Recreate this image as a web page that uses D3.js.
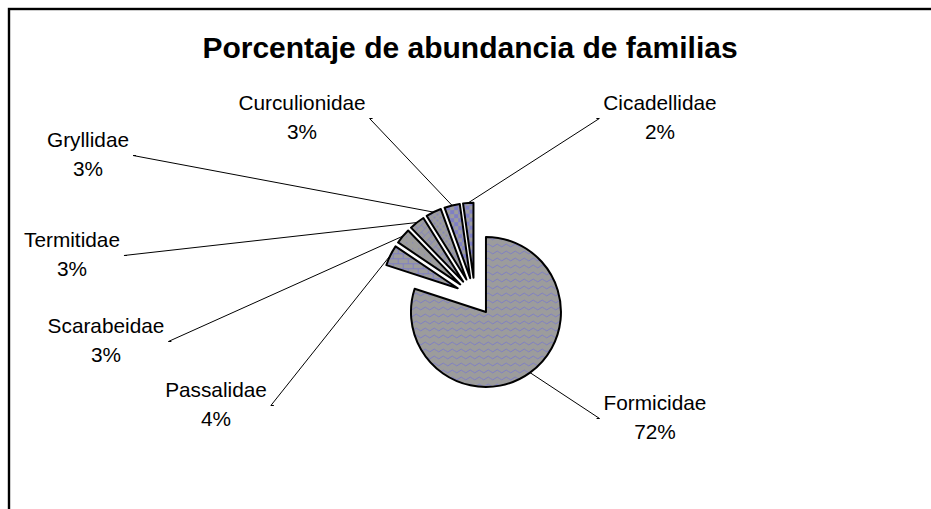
<!DOCTYPE html>
<html>
<head>
<meta charset="utf-8">
<script src="https://cdn.jsdelivr.net/npm/d3@7"></script>
<style>
  body { margin: 0; background: #fff; }
  text { font-family: "Liberation Sans", Arial, sans-serif; fill: #000; }
</style>
</head>
<body>
<div id="chart"></div>
<script>
var svgWidth = 931;
var svgHeight = 509;

// data
var families = ["Formicidae", "Passalidae", "Scarabeidae", "Termitidae", "Gryllidae", "Curculionidae", "Cicadellidae"];
var values = [72, 4, 3, 3, 3, 3, 2];
var pctLabels = ["72%", "4%", "3%", "3%", "3%", "3%", "2%"];
var patterns = ["wave", "brick", "dots", "dbrick", "smallcheck", "check", "check"];

// layout: label anchors (centre x, first baseline) as placed in the original
var labelPos = [[655, 410], [216, 397], [106, 333], [72, 247], [88, 147], [302, 110], [660, 110]];

var centre = { x: 474.8, y: 296.6 };
var radius = 75;
var explode = 19;

var svg = d3.select("#chart")
  .append("svg")
  .attr("width", svgWidth)
  .attr("height", svgHeight);

// chart frame (runs off the bottom/right of the window)
svg.append("rect")
  .attr("x", 9).attr("y", 9)
  .attr("width", 1000).attr("height", 600)
  .attr("fill", "none")
  .attr("stroke", "#000")
  .attr("stroke-width", 2.4);

// fill patterns
var grey = "#9c9c9c";
var blue = "#7f7fc4";
var defs = svg.append("defs");

var p = defs.append("pattern").attr("id", "wave")
  .attr("patternUnits", "userSpaceOnUse").attr("width", 9).attr("height", 7);
p.append("rect").attr("width", 9).attr("height", 7).attr("fill", grey);
p.append("path").attr("d", "M0,3.5 Q2.25,0.7 4.5,3.5 T9,3.5")
  .attr("fill", "none").attr("stroke", blue).attr("stroke-width", 1);

p = defs.append("pattern").attr("id", "brick")
  .attr("patternUnits", "userSpaceOnUse").attr("width", 10).attr("height", 10);
p.append("rect").attr("width", 10).attr("height", 10).attr("fill", grey);
p.append("path").attr("d", "M0,0.5H10M0,5.5H10M0.5,0V5.5M5.5,5.5V10")
  .attr("fill", "none").attr("stroke", blue).attr("stroke-width", 1);

p = defs.append("pattern").attr("id", "dbrick")
  .attr("patternUnits", "userSpaceOnUse").attr("width", 10).attr("height", 10)
  .attr("patternTransform", "rotate(-45)");
p.append("rect").attr("width", 10).attr("height", 10).attr("fill", grey);
p.append("path").attr("d", "M0,0.5H10M0,5.5H10M0.5,0V5.5M5.5,5.5V10")
  .attr("fill", "none").attr("stroke", blue).attr("stroke-width", 1).attr("opacity", 0.6);

p = defs.append("pattern").attr("id", "dots")
  .attr("patternUnits", "userSpaceOnUse").attr("width", 6).attr("height", 6);
p.append("rect").attr("width", 6).attr("height", 6).attr("fill", grey);
p.append("rect").attr("x", 0).attr("y", 0).attr("width", 1).attr("height", 1).attr("fill", blue);

p = defs.append("pattern").attr("id", "smallcheck")
  .attr("patternUnits", "userSpaceOnUse").attr("width", 6).attr("height", 6);
p.append("rect").attr("width", 6).attr("height", 6).attr("fill", grey);
p.append("rect").attr("width", 2).attr("height", 2).attr("fill", blue).attr("opacity", 0.7);
p.append("rect").attr("x", 3).attr("y", 3).attr("width", 2).attr("height", 2).attr("fill", blue).attr("opacity", 0.7);

p = defs.append("pattern").attr("id", "check")
  .attr("patternUnits", "userSpaceOnUse").attr("width", 8).attr("height", 8);
p.append("rect").attr("width", 8).attr("height", 8).attr("fill", grey);
p.append("rect").attr("width", 4).attr("height", 4).attr("fill", blue);
p.append("rect").attr("x", 4).attr("y", 4).attr("width", 4).attr("height", 4).attr("fill", blue);

// title
svg.append("text")
  .attr("x", 470)
  .attr("y", 58)
  .attr("text-anchor", "middle")
  .attr("font-size", "30px")
  .attr("font-weight", "bold")
  .text("Porcentaje de abundancia de familias");

// pie
var pie = d3.pie().sort(null).value(d => d);
var arcs = pie(values);
var arc = d3.arc().innerRadius(0).outerRadius(radius);

function offset(d) {
  var a = (d.startAngle + d.endAngle) / 2;
  return [centre.x + explode * Math.sin(a), centre.y - explode * Math.cos(a)];
}

var pieGroup = svg.append("g");
pieGroup.selectAll("path")
  .data(arcs)
  .enter()
  .append("path")
  .attr("transform", d => `translate(${offset(d)[0]}, ${offset(d)[1]})`)
  .attr("d", arc)
  .attr("fill", (d, i) => `url(#${patterns[i]})`)
  .attr("stroke", "#000")
  .attr("stroke-width", 2)
  .attr("stroke-linejoin", "round");

// labels and leader lines
var labelGroup = svg.append("g");
arcs.forEach(function(d, i) {
  var lx = labelPos[i][0], ly = labelPos[i][1];
  var t = labelGroup.append("text")
    .attr("x", lx)
    .attr("y", ly)
    .attr("text-anchor", "middle")
    .attr("font-size", "20.8px");
  t.append("tspan").attr("x", lx).text(families[i]);
  t.append("tspan").attr("x", lx).attr("dy", 29).text(pctLabels[i]);

  var w = t.node().getBBox().width;
  var o = offset(d);
  var a = (d.startAngle + d.endAngle) / 2;
  var ex = o[0] + radius * Math.sin(a), ey = o[1] - radius * Math.cos(a);
  var onRight = lx > ex;
  var sx = onRight ? lx - w / 2 - 4 : lx + w / 2 + 4;
  var sy = ly + 8.5;
  var tick = onRight ? -3 : 3;
  labelGroup.append("path")
    .attr("d", `M${sx + tick},${sy}H${sx}L${ex},${ey}`)
    .attr("fill", "none")
    .attr("stroke", "#000")
    .attr("stroke-width", 1);
});
</script>
</body>
</html>
